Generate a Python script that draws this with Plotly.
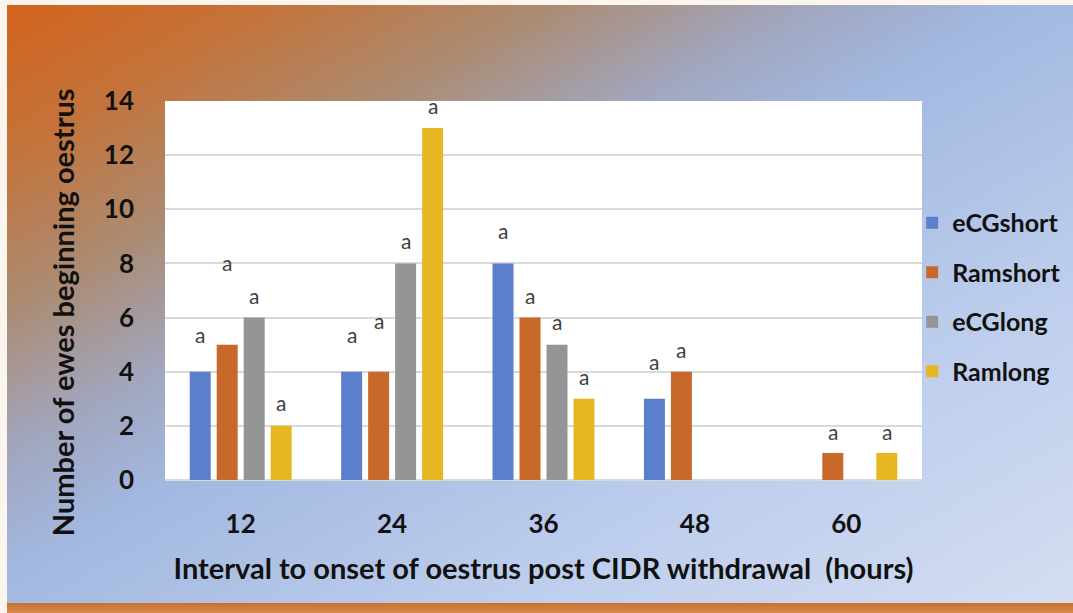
import base64
import plotly.graph_objects as go

# ---- data -----------------------------------------------------------------
hours = [12, 24, 36, 48, 60]
hour_labels = ["12", "24", "36", "48", "60"]

series_names = ["eCGshort", "Ramshort", "eCGlong", "Ramlong"]
ecg_short = [4, 4, 8, 3, 0]
ram_short = [5, 4, 6, 4, 1]
ecg_long = [6, 8, 5, 0, 0]
ram_long = [2, 13, 3, 0, 1]

# significance letters for each bar (None = no letter)
letters_ecg_short = ["a", "a", "a", "a", None]
letters_ram_short = ["a", "a", "a", "a", "a"]
letters_ecg_long = ["a", "a", "a", None, None]
letters_ram_long = ["a", "a", "a", None, "a"]

# ---- layout of the letters (height where each letter sits) -----------------
letter_height_ecg_short = [5.36, 5.38, 9.21, 4.37, None]
letter_height_ram_short = [8.03, 5.91, 6.83, 4.83, 1.78]
letter_height_ecg_long = [6.83, 8.84, 5.85, None, None]
letter_height_ram_long = [2.85, 13.85, 3.84, None, 1.78]

colors = ["#5b7fca", "#c8692b", "#959595", "#e6b723"]
values = [ecg_short, ram_short, ecg_long, ram_long]
letters = [letters_ecg_short, letters_ram_short, letters_ecg_long, letters_ram_long]
letter_heights = [letter_height_ecg_short, letter_height_ram_short,
                  letter_height_ecg_long, letter_height_ram_long]

W, H = 1073, 613
ML, MR, MT, MB = 165, 151, 101, 133
BARGAP, BARGROUPGAP = 0.287, 0.222
FONT = "Lato"

fig = go.Figure()
for i, (name, vals, col) in enumerate(zip(series_names, values, colors)):
    fig.add_trace(go.Bar(
        x=hours, y=vals, name=name, marker_color=col,
        marker_line_width=0, legendgroup=name,
    ))

# letters placed over the bar slots of each series
n = len(series_names)
slot = 12 * (1 - BARGAP) / n
for i in range(n):
    for h, txt, yy in zip(hours, letters[i], letter_heights[i]):
        if txt is None:
            continue
        fig.add_annotation(
            x=h + (i - (n - 1) / 2) * slot, y=yy, text=txt, showarrow=False,
            font=dict(family=FONT, size=21, color="#404040"),
        )

# vertical axis title, set a little below the plot centre
fig.add_annotation(
    xref="paper", yref="paper", x=-0.136, y=0.443, textangle=-90,
    xanchor="center", yanchor="middle",
    text="Number of ewes beginning oestrus", showarrow=False,
    font=dict(family=FONT, size=29, color="#111111", weight="bold"),
)

# background: diagonal orange -> blue wash with a thin frame and bottom band
svg = f"""<svg xmlns='http://www.w3.org/2000/svg' width='{W}' height='{H}' viewBox='0 0 {W} {H}' preserveAspectRatio='none'>
<defs>
<linearGradient id='g' gradientUnits='userSpaceOnUse' x1='0' y1='0' x2='515' y2='916'>
<stop offset='0' stop-color='#d3621b'/>
<stop offset='0.13' stop-color='#c4733a'/>
<stop offset='0.26' stop-color='#ab8b72'/>
<stop offset='0.38' stop-color='#a1a6be'/>
<stop offset='0.48' stop-color='#a2b8e0'/>
<stop offset='0.72' stop-color='#bccdec'/>
<stop offset='1' stop-color='#d4ddf2'/>
</linearGradient>
<linearGradient id='b' x1='0' y1='0' x2='0' y2='1'>
<stop offset='0' stop-color='#c8712f'/>
<stop offset='1' stop-color='#d98a4c'/>
</linearGradient>
</defs>
<rect x='0' y='0' width='{W}' height='{H}' fill='#fbf5ee'/>
<rect x='7' y='5' width='{W - 7}' height='598' fill='url(#g)'/>
<rect x='7' y='603' width='{W - 7}' height='10' fill='url(#b)'/>
</svg>"""
src = "data:image/svg+xml;base64," + base64.b64encode(svg.encode()).decode()

pw, ph = W - ML - MR, H - MT - MB
fig.add_layout_image(
    source=src, xref="paper", yref="paper",
    x=-ML / pw, y=1 + MT / ph, sizex=W / pw, sizey=H / ph,
    xanchor="left", yanchor="top", sizing="stretch", layer="below",
)
fig.add_shape(type="rect", xref="paper", yref="paper", x0=0, x1=1, y0=0, y1=1,
              fillcolor="white", line_width=0, layer="below")

fig.update_layout(
    width=W, height=H,
    margin=dict(l=ML, r=MR, t=MT, b=MB, autoexpand=False),
    paper_bgcolor="white", plot_bgcolor="white",
    barmode="group", bargap=BARGAP, bargroupgap=BARGROUPGAP,
    font=dict(family=FONT, color="#111111"),
    showlegend=True,
    legend=dict(
        x=0.987, xanchor="left", y=0.483, yanchor="middle",
        font=dict(family=FONT, size=25, color="#111111", weight="bold"),
        bgcolor="rgba(0,0,0,0)", tracegroupgap=14, itemwidth=30,
    ),
)
fig.update_xaxes(
    range=[6, 66], tickvals=hours, ticktext=hour_labels,
    showgrid=False, zeroline=False, showline=False,
    ticks="", ticklabelstandoff=26,
    tickfont=dict(family=FONT, size=26, color="#111111", weight="bold"),
    title=dict(text="Interval to onset of oestrus post CIDR withdrawal  (hours)",
               font=dict(family=FONT, size=29, color="#111111", weight="bold"),
               standoff=20),
)
fig.update_yaxes(
    range=[0, 14], dtick=2, showgrid=True, gridcolor="#d9d9d9", gridwidth=1.5,
    zeroline=True, zerolinecolor="#d9d9d9", zerolinewidth=1.5, showline=False,
    ticks="", ticklabelstandoff=30,
    tickfont=dict(family=FONT, size=26, color="#111111", weight="bold"),
)

fig.write_html("out.html")
